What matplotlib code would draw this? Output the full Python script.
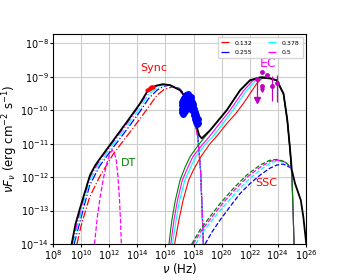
import numpy as np
import matplotlib
matplotlib.use('Agg')
from matplotlib import pyplot as plt

# values are log10(nu / Hz) and log10(nuF_nu / erg cm^-2 s^-1)
labels = ['0.132', '0.255', '0.378', '0.5']
colors = ['red', 'blue', 'cyan', 'magenta']

# synchrotron components (dash-dot)
sync_x = {
    '0.132': [9.7, 10.0, 10.6, 11.3, 12.3, 13.3, 14.2, 14.8, 15.4, 15.9, 16.5, 17.0, 17.5, 18.0, 18.3, 18.5, 18.7],
    '0.255': [9.5, 10.0, 10.6, 11.3, 12.3, 13.3, 14.2, 14.8, 15.4, 15.9, 16.3, 17.0, 17.5, 18.0, 18.3, 18.5, 18.7],
    '0.378': [9.42, 10.0, 10.6, 11.3, 12.3, 13.3, 14.2, 14.8, 15.4, 15.9, 16.2, 17.0, 17.5, 18.0, 18.3, 18.5, 18.7],
    '0.5': [9.35, 10.0, 10.6, 11.3, 12.3, 13.3, 14.2, 14.8, 15.4, 15.9, 16.4, 17.0, 17.5, 18.0, 18.3, 18.5, 18.7],
}
sync_y = {
    '0.132': [-14.0, -13.45, -12.6, -12.0, -11.3, -10.75, -10.25, -9.9, -9.55, -9.38, -9.3, -9.38, -9.65, -10.15, -10.8, -11.8, -14.0],
    '0.255': [-14.0, -13.2, -12.25, -11.68, -11.1, -10.55, -10.03, -9.65, -9.4, -9.28, -9.25, -9.35, -9.6, -10.1, -10.75, -11.8, -14.0],
    '0.378': [-14.0, -13.05, -12.12, -11.58, -11.0, -10.45, -9.92, -9.52, -9.33, -9.25, -9.24, -9.37, -9.62, -10.12, -10.78, -11.8, -14.0],
    '0.5': [-14.0, -12.9, -12.02, -11.5, -10.93, -10.37, -9.82, -9.44, -9.28, -9.23, -9.26, -9.4, -9.66, -10.15, -10.8, -11.8, -14.0],
}

# external Compton components (solid)
ec_tail_x = [23.92, 24.4, 24.67, 24.87, 25.0, 25.08, 25.15]
ec_tail_y = [-9.12, -9.52, -10.3, -11.2, -12.0, -13.0, -14.0]
ec_x = {
    'red': [16.65, 16.95, 17.25, 17.65, 17.99, 18.5, 19.17, 19.7, 20.36, 21.0, 21.54, 22.1, 22.5, 22.85, 23.2, 23.44],
    'cyan': [16.5, 16.75, 17.0, 17.38, 17.8, 18.15, 18.8, 19.35, 20.0, 20.8, 21.75, 22.4, 22.8, 23.05, 23.44],
    'magenta': [16.38, 16.6, 16.85, 17.2, 17.6, 17.95, 18.6, 19.1, 19.75, 20.6, 21.55, 22.2, 22.65, 22.95, 23.44],
    'green': [16.25, 16.45, 16.7, 17.04, 17.4, 17.75, 18.34, 18.8, 19.5, 20.36, 21.31, 22.02, 22.5, 22.85, 23.44],
}
ec_y = {
    'red': [-14.0, -13.3, -12.7, -12.09, -11.79, -11.4, -11.0, -10.75, -10.4, -10.1, -9.8, -9.45, -9.2, -9.05, -9.02, -9.04],
    'cyan': [-14.0, -13.3, -12.7, -12.09, -11.7, -11.39, -11.04, -10.8, -10.45, -10.0, -9.42, -9.12, -9.03, -9.0, -9.04],
    'magenta': [-14.0, -13.3, -12.7, -12.09, -11.7, -11.39, -11.04, -10.8, -10.45, -10.0, -9.42, -9.12, -9.03, -9.0, -9.04],
    'green': [-14.0, -13.3, -12.7, -12.09, -11.7, -11.39, -11.04, -10.8, -10.45, -10.0, -9.42, -9.12, -9.03, -9.0, -9.04],
}

# synchrotron self-Compton components (dashed)
ssc_x = {
    'blue': [18.82, 19.3, 19.89, 20.6, 21.31, 22.0, 22.73, 23.4, 23.92, 24.39, 24.99],
    'cyan': [18.15, 18.7, 19.45, 20.2, 21.1, 22.05, 22.95, 23.6, 24.05, 24.55, 24.99],
    'magenta': [17.97, 18.56, 19.3, 20.0, 20.95, 21.9, 22.85, 23.5, 23.98, 24.51, 24.99],
    'green': [17.87, 18.46, 19.17, 19.89, 20.83, 21.78, 22.73, 23.4, 23.92, 24.51, 24.99],
}
ssc_y = {
    'blue': [-14.0, -13.65, -13.28, -12.88, -12.49, -12.2, -11.94, -11.74, -11.64, -11.61, -11.74],
    'cyan': [-14.0, -13.62, -13.22, -12.85, -12.42, -12.02, -11.72, -11.55, -11.52, -11.57, -11.74],
    'magenta': [-14.0, -13.6, -13.2, -12.82, -12.37, -11.97, -11.67, -11.52, -11.49, -11.55, -11.74],
    'green': [-14.0, -13.58, -13.18, -12.79, -12.34, -11.94, -11.64, -11.5, -11.47, -11.54, -11.74],
}

# dusty torus
dt_x = [10.95, 11.15, 11.35, 11.6, 11.85, 12.05, 12.2, 12.35, 12.5, 12.62, 12.72, 12.8, 12.86]
dt_y = [-14.0, -13.2, -12.6, -12.0, -11.55, -11.3, -11.2, -11.25, -11.5, -12.0, -12.6, -13.3, -14.0]

# total model
tot_x = [9.3, 9.6, 9.92, 10.3, 10.63, 11.0, 11.35, 12.29, 13.25, 14.19, 14.76, 15.3, 15.8, 16.33, 17.04,
         17.4, 17.8, 18.05, 18.23, 18.4, 18.58, 19.17, 20.36, 21.31, 22.02, 22.73, 23.44, 23.92, 24.4,
         24.67, 24.87, 24.99, 25.22, 25.63, 25.81, 25.99, 26.05]
tot_y = [-14.05, -13.4, -12.93, -12.4, -11.94, -11.65, -11.44, -10.9, -10.35, -9.8, -9.4, -9.27, -9.22, -9.25, -9.4,
         -9.6, -9.95, -10.25, -10.5, -10.75, -10.84, -10.6, -10.0, -9.4, -9.1, -9.02, -9.05, -9.1, -9.5,
         -10.3, -11.19, -11.79, -12.19, -12.69, -13.19, -13.88, -14.1]

# X-ray data
xray_x = [17.15, 17.15, 17.18, 17.2, 17.22, 17.25, 17.28, 17.3, 17.32, 17.35, 17.38, 17.4, 17.42, 17.45,
          17.48, 17.5, 17.52, 17.55, 17.58, 17.6, 17.62, 17.65, 17.68, 17.7, 17.72, 17.75, 17.78, 17.8,
          17.82, 17.85, 17.88, 17.9, 17.92, 17.95, 17.98, 18.0, 18.02, 18.05, 18.08, 18.1, 18.12, 18.15,
          18.18, 18.2, 18.22, 18.25, 18.28, 18.3,
          17.3, 17.4, 17.5, 17.6, 17.7, 17.8, 17.9, 17.45, 17.65, 17.85]
xray_y = [-9.85, -9.95, -10.05, -9.75, -9.9, -10.1, -9.7, -9.95, -10.05, -9.62, -9.8, -9.9, -10.02, -9.55,
          -9.7, -9.85, -9.6, -9.75, -9.52, -9.65, -9.8, -9.58, -9.7, -9.9, -9.6, -9.75, -9.65, -9.85,
          -9.7, -9.95, -9.75, -9.85, -10.0, -9.8, -9.9, -10.05, -10.15, -9.95, -10.1, -10.25, -10.05, -10.2,
          -10.35, -10.15, -10.3, -10.4, -10.25, -10.38,
          -9.82, -9.7, -9.72, -9.72, -9.8, -9.78, -9.92, -9.62, -9.9, -9.6]

# optical-UV data
opt_x = [14.72, 14.8, 14.88, 14.95, 15.02, 15.1]
opt_y = [-9.38, -9.36, -9.34, -9.32, -9.3, -9.31]

# gamma-ray data
gam_x = [22.85, 23.21, 23.57, 23.92]
gam_y = [-8.86, -8.96, -9.28, -9.18]
gam_lo = [-8.86, -8.96, -9.72, -9.74]
gam_hi = [-8.86, -8.96, -8.97, -8.96]
ul_x = [22.54, 22.85]
ul_y = [-9.07, -9.28]
ul_end = [-9.68, -9.4]

fig = plt.figure(figsize=(3.4, 2.8), dpi=100)
ax = fig.add_axes([0.156, 0.1286, 0.744, 0.75])
ax.set_xscale('log')
ax.set_yscale('log')

for lab, c in zip(labels, colors):
	ax.plot(10 ** np.array(sync_x[lab]), 10 ** np.array(sync_y[lab]), color=c, ls='-.', lw=0.9, label=lab)

for c in ['red', 'cyan', 'magenta', 'green']:
	xs = np.array(ec_x[c] + ec_tail_x)
	ys = np.array(ec_y[c] + ec_tail_y)
	ax.plot(10 ** xs, 10 ** ys, color=c if c != 'green' else 'g', ls='-', lw=0.8)

for c in ['blue', 'cyan', 'magenta', 'green']:
	ax.plot(10 ** np.array(ssc_x[c]), 10 ** np.array(ssc_y[c]), color=c if c != 'green' else 'g', ls='--', lw=0.9)

ax.plot(10 ** np.array(dt_x), 10 ** np.array(dt_y), color='magenta', ls='--', lw=0.9)
ax.plot(10 ** np.array(tot_x), 10 ** np.array(tot_y), color='black', ls='-', lw=1.3)

ax.plot(10 ** np.array(xray_x), 10 ** np.array(xray_y), 'o', color='blue', ms=5, mew=0)
ax.plot(10 ** np.array(opt_x), 10 ** np.array(opt_y), 'o', color='red', ms=3, mew=0)

gx = 10 ** np.array(gam_x)
gy = 10 ** np.array(gam_y)
yerr = [gy - 10 ** np.array(gam_lo), 10 ** np.array(gam_hi) - gy]
ax.errorbar(gx, gy, yerr=yerr, fmt='o', color='m', ms=2.5, elinewidth=0.9, capsize=0)
for x0, y0, y1 in zip(ul_x, ul_y, ul_end):
	ax.plot([10 ** x0, 10 ** x0], [10 ** y0, 10 ** y1], color='m', lw=0.9)
	ax.plot(10 ** x0, 10 ** y0, 'o', color='m', ms=2.5)
	ax.plot(10 ** x0, 10 ** y1, 'v', color='m', ms=4 if y1 < -9.5 else 2.5)

ax.text(10 ** 14.19, 10 ** -8.73, 'Sync', color='red', fontsize=8, va='center')
ax.text(10 ** 22.73, 10 ** -8.6, 'EC', color='magenta', fontsize=9, va='center')
ax.text(10 ** 12.84, 10 ** -11.58, 'DT', color='green', fontsize=8, va='center')
ax.text(10 ** 22.38, 10 ** -12.19, 'SSC', color='red', fontsize=8, va='center')

ax.set_xlim(1e8, 1e26)
ax.set_ylim(1e-14, 10 ** -7.72)
ax.set_xticks([10.0 ** k for k in range(8, 27, 2)])
ax.minorticks_off()
ax.grid(True, color='#cccccc', lw=0.8)
ax.set_axisbelow(True)
ax.tick_params(labelsize=7, pad=1, length=2)
ax.set_xlabel(r'$\nu$ (Hz)', fontsize=8.5, labelpad=-1)
ax.set_ylabel(r'$\nu F_{\nu}$ (erg cm$^{-2}$ s$^{-1}$)', fontsize=8.5, labelpad=0)
ax.legend(loc='upper right', ncol=2, fontsize=4.5, handlelength=1.4, columnspacing=2.5,
          borderpad=0.5, labelspacing=0.6)

fig.savefig('out.png', dpi=100)
